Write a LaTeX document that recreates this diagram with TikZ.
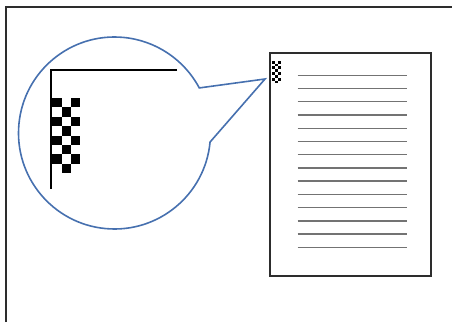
\documentclass[tikz,border=0pt]{standalone}
\usetikzlibrary{calc}
\definecolor{bubbleblue}{RGB}{70,112,175}
\definecolor{framegray}{RGB}{45,45,45}
\definecolor{rulegray}{RGB}{115,115,115}
\tikzset{
  frameline/.style={draw=framegray,line width=2.2pt},
  bubble/.style={draw=bubbleblue,line width=1.6pt,line join=miter},
  cornerline/.style={draw=black,line width=1.6pt},
  pageline/.style={draw=rulegray,line width=1.4pt},
}
\begin{document}
\begin{tikzpicture}[x=1pt,y=1pt]
\useasboundingbox (0,0) rectangle (452,322);
% outer frame (left and top edges)
\draw[frameline] (6,0) -- (6,315) -- (452,315);
% callout bubble
\coordinate (c) at (114.5,189);
\coordinate (tip) at (265,243);
\draw[bubble] ($(c)+(28:96)$) -- (tip) -- ($(c)+(-5.4:96)$)
  arc[start angle=-5.4,end angle=-332,radius=96] -- cycle;
% enlarged corner
\coordinate (k) at (51,252);
\draw[cornerline] (177,252) -- (k) -- (51,133);
% enlarged checker
\foreach \i in {0,...,7}{
  \foreach \j in {0,1,2}{
    \pgfmathtruncatemacro{\myparity}{mod(\i+\j,2)}
    \ifnum\myparity=0
      \fill[black] ({52.3+9.35*\j},{224-9.4*\i}) rectangle ++(9.35,-9.4);
    \fi
  }
}
% page
\draw[frameline,line width=2pt] (270,46) rectangle (430.7,269.3);
\foreach \i in {0,...,13}{
  \draw[pageline] (297.7,{246.7-13.23*\i}) -- (407.3,{246.7-13.23*\i});
}
% small checker on page
\foreach \i in {0,...,7}{
  \foreach \j in {0,1,2}{
    \pgfmathtruncatemacro{\myparity}{mod(\i+\j,2)}
    \ifnum\myparity=0
      \fill[black] ({271.7+3*\j},{261.3-2.83*\i}) rectangle ++(3,-2.83);
    \fi
  }
}
\end{tikzpicture}
\end{document}
